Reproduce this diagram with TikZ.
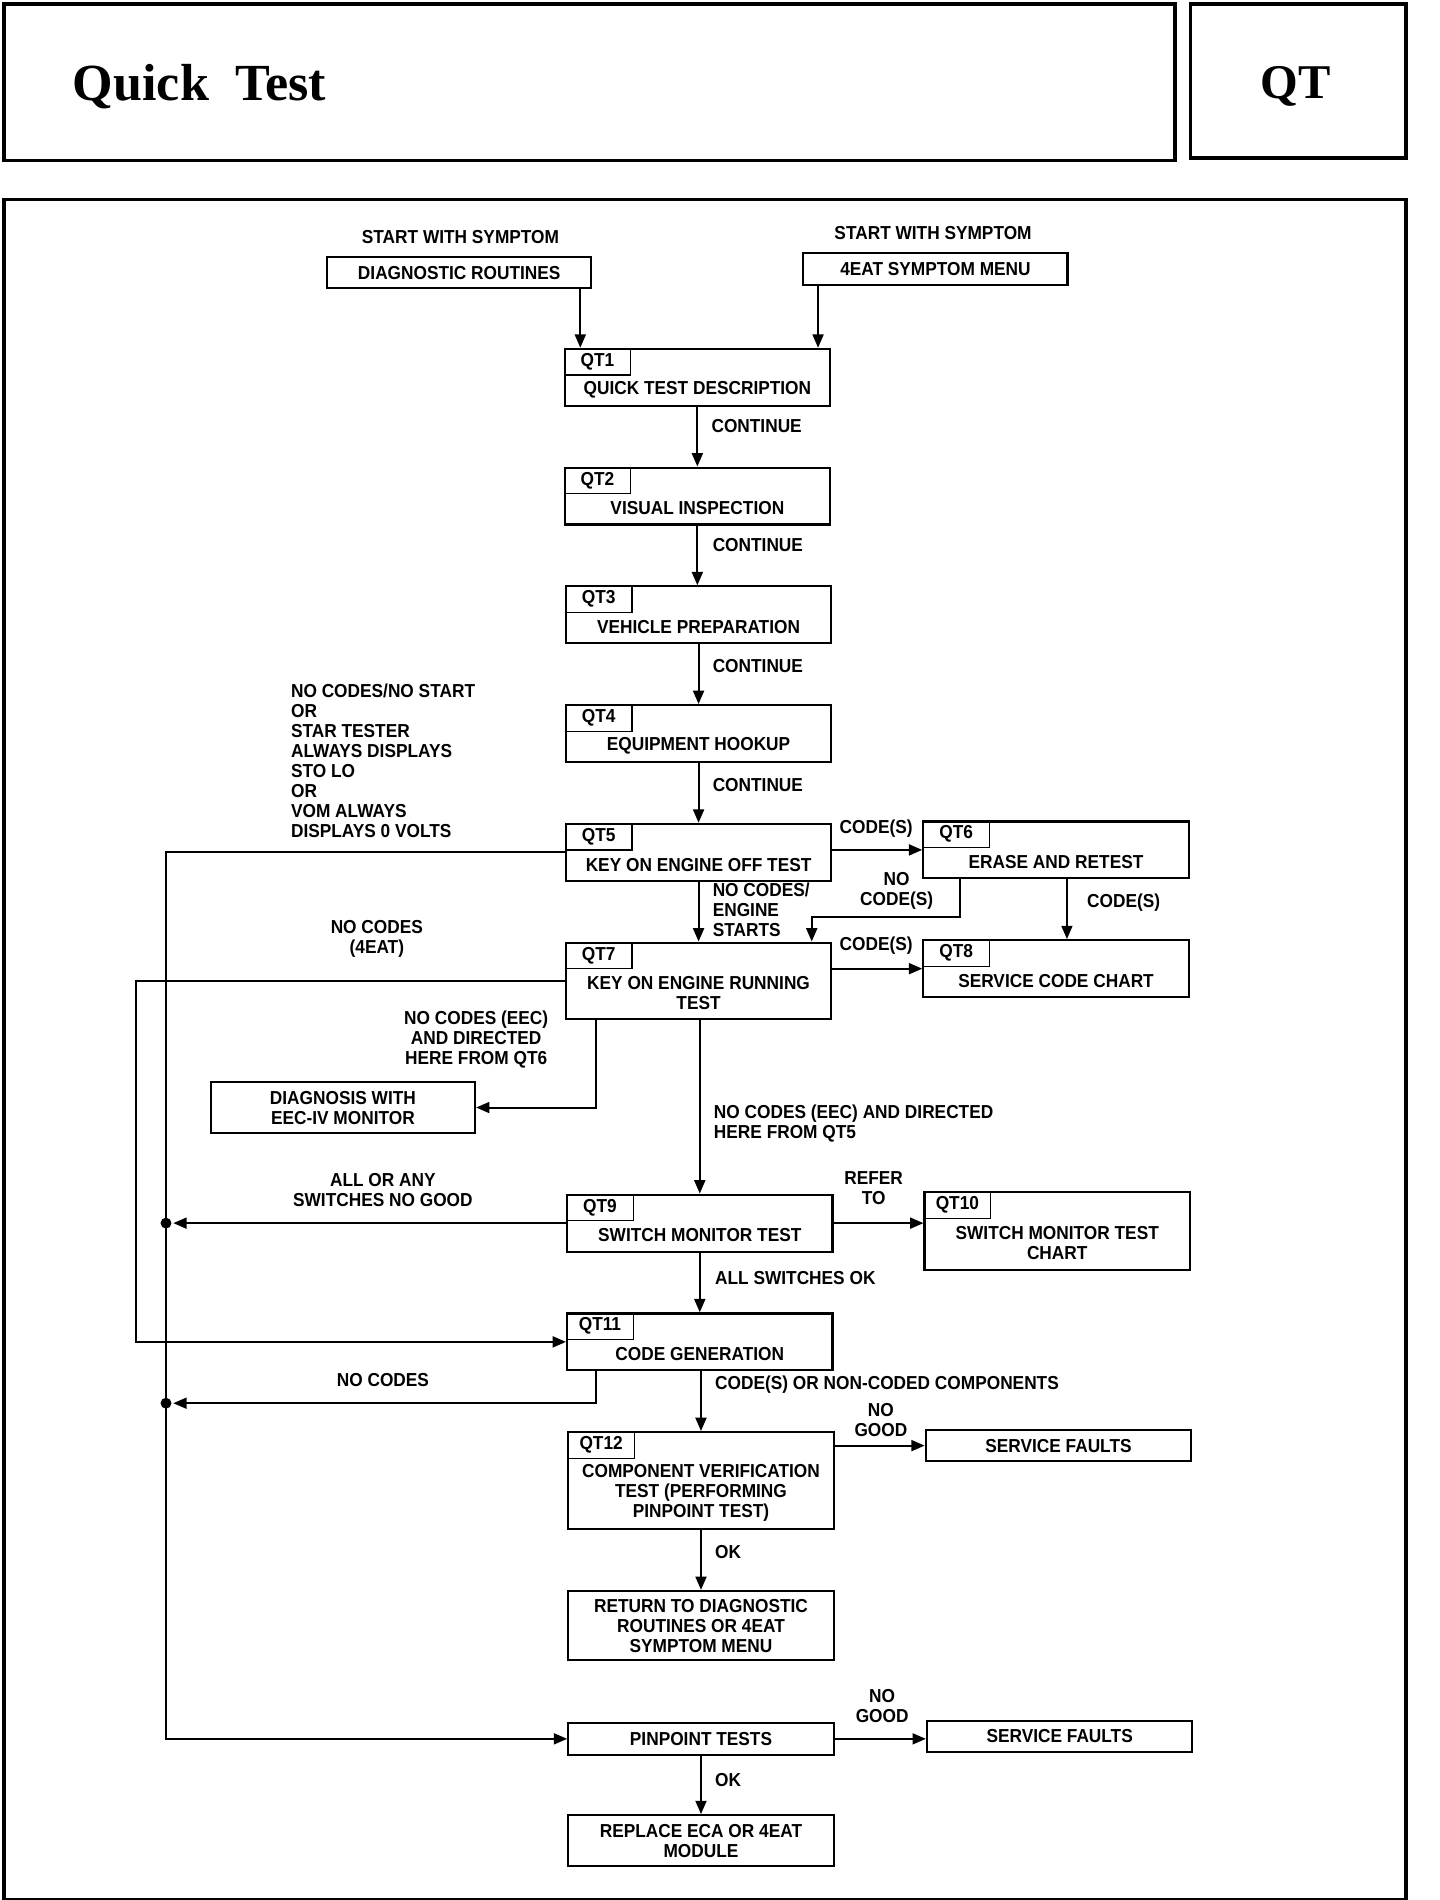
\documentclass[tikz,border=0pt]{standalone}
\usepackage{fontspec}
\setmainfont{Liberation Sans}[FakeStretch=0.92]
\newfontfamily\titlefont{Liberation Serif}
\usetikzlibrary{arrows.meta,calc}
\newcommand\lbl{\fontsize{15.5}{16.5}\selectfont\bfseries}
\newcommand\qtb[6]{%
 \node[box, minimum height=#4pt, anchor=north] (#1) at (#2,#3) {};
 \node[tagbox, anchor=north west] (#1tag) at (#1.north west) {#5};
 \node[lbl] (#1txt) at (#2,{#3+11+#4/2}) {#6};
}
\tikzset{
 box/.style={draw, line width=1.8pt, minimum width=219pt, inner sep=0pt},
 pbox/.style={draw, line width=1.8pt, minimum width=219pt, inner sep=0pt, font=\lbl, align=center},
 tagbox/.style={draw, line width=1pt, minimum width=55pt, minimum height=22pt, inner sep=0pt, font=\lbl},
 lbl/.style={inner sep=0pt, font=\lbl, align=center},
 lbll/.style={inner sep=0pt, font=\lbl, align=left, anchor=west},
 arr/.style={line width=1.7pt, -{Triangle[length=11pt,width=9pt]}},
 dot/.style={circle, fill, inner sep=0pt, minimum size=9pt},
}
\begin{document}
\begin{tikzpicture}[x=1pt,y=-1pt]
\useasboundingbox (0,0) rectangle (1188,1568);
% header
\node[draw, line width=3pt, minimum width=966pt, minimum height=129pt, anchor=north west] (hdr) at (2,2) {};
\node[draw, line width=3pt, minimum width=178pt, minimum height=127pt, anchor=north west] (hdrqt) at (981,2) {};
\node[anchor=base west, inner sep=0pt, font=\titlefont\fontsize{43}{46}\selectfont\bfseries] (title) at (60,83) {Quick\,\,\,Test};
\node[anchor=base, inner sep=0pt, font=\titlefont\fontsize{40}{44}\selectfont\bfseries] (qtt) at (1069,81) {QT};
% main frame
\node[draw, line width=3pt, minimum width=1157pt, minimum height=1403pt, anchor=north west] (frame) at (2,163) {};

% start boxes
\node[lbl] (st1) at (380,196) {START WITH SYMPTOM};
\node[pbox, minimum width=218pt, minimum height=26pt] (diag) at (379,225) {DIAGNOSTIC ROUTINES};
\node[lbl] (st2) at (770,192) {START WITH SYMPTOM};
\node[pbox, minimum width=218pt, minimum height=26pt] (menu) at (772,222) {4EAT SYMPTOM MENU};

% QT boxes
\qtb{qt1}{575.5}{287}{47}{QT1}{QUICK TEST DESCRIPTION}
\qtb{qt2}{575.5}{385}{47}{QT2}{VISUAL INSPECTION}
\qtb{qt3}{576.5}{483}{47}{QT3}{VEHICLE PREPARATION}
\qtb{qt4}{576.5}{581}{47}{QT4}{EQUIPMENT HOOKUP}
\qtb{qt5}{576.5}{679}{47}{QT5}{KEY ON ENGINE OFF TEST}
\qtb{qt6}{871.5}{677}{47}{QT6}{ERASE AND RETEST}
\qtb{qt7}{576.5}{777}{63}{QT7}{KEY ON ENGINE RUNNING\\TEST}
\qtb{qt8}{871.5}{775}{47}{QT8}{SERVICE CODE CHART}
\qtb{qt9}{577.5}{985}{47}{QT9}{SWITCH MONITOR TEST}
\qtb{qt10}{872.5}{983}{64}{QT10}{SWITCH MONITOR TEST\\CHART}
\qtb{qt11}{577.5}{1083}{47}{QT11}{CODE GENERATION}
\qtb{qt12}{578.5}{1181}{80}{QT12}{COMPONENT VERIFICATION\\TEST (PERFORMING\\PINPOINT TEST)}

% plain boxes
\node[pbox, minimum width=218pt, minimum height=42pt] (eec) at (283,914) {DIAGNOSIS WITH\\EEC-IV MONITOR};
\node[pbox, minimum height=26pt] (sf1) at (873.5,1193) {SERVICE FAULTS};
\node[pbox, minimum height=57pt] (ret) at (578.5,1341.5) {RETURN TO DIAGNOSTIC\\ROUTINES OR 4EAT\\SYMPTOM MENU};
\node[pbox, minimum height=26pt] (pin) at (578.5,1435) {PINPOINT TESTS};
\node[pbox, minimum height=26pt] (sf2) at (874.5,1433) {SERVICE FAULTS};
\node[pbox, minimum height=42pt] (rep) at (578.5,1519) {REPLACE ECA OR 4EAT\\MODULE};

% helper coordinates
\coordinate (d1) at ([xshift=-10pt]diag.south east);
\coordinate (e1) at ([xshift=13pt]menu.south west);
\coordinate (busA) at (137,704);
\coordinate (busB) at (112,807);
\coordinate (q6a) at ([xshift=31pt]qt6.south west);
\coordinate (q6b) at ([xshift=9pt]qt6.south);
\coordinate (q7a) at ([xshift=-17pt]qt7.north east);
\coordinate (q7b) at ([xshift=26pt]qt7.south west);
\coordinate (q11a) at ([xshift=25pt]qt11.south west);
\coordinate (j1) at (qt9.west -| busA);
\coordinate (j2) at (137,1158);

% connectors
\draw[arr] (d1) -- (d1 |- qt1.north);
\draw[arr] (e1) -- (e1 |- qt1.north);
\draw[arr] (qt1.south) -- (qt1.south |- qt2.north);
\draw[arr] (qt2.south) -- (qt2.south |- qt3.north);
\draw[arr] (qt3.south) -- (qt3.south |- qt4.north);
\draw[arr] (qt4.south) -- (qt4.south |- qt5.north);
\draw[arr] (qt6.west -| qt5.east) -- (qt6.west);
\draw[arr] (qt5.south) -- (qt5.south |- qt7.north);
\draw[arr] (q6a) -- ++(0,31) -| (q7a);
\draw[arr] (q6b) -- (q6b |- qt8.north);
\draw[arr] (qt8.west -| qt7.east) -- (qt8.west);
\draw[arr] (qt5.west) -- (qt5.west -| busA) |- (pin.west);
\draw[arr] (qt7.west) -- (qt7.west -| busB) |- (qt11.west);
\draw[arr] (q7b) |- (eec.east);
\draw[arr] (qt9.north |- qt7.south) -- (qt9.north);
\draw[arr] (qt9.west) -- ([xshift=6pt]j1);
\node[dot] (dot1) at (j1) {};
\draw[arr] (qt9.east) -- (qt9.east -| qt10.west);
\draw[arr] (qt9.south) -- (qt9.south |- qt11.north);
\draw[arr] (q11a) |- ([xshift=6pt]j2);
\node[dot] (dot2) at (j2) {};
\draw[arr] (qt11.south -| qt12.north) -- (qt12.north);
\draw[arr] (sf1.west -| qt12.east) -- (sf1.west);
\draw[arr] (qt12.south) -- (ret.north);
\draw[arr] (pin.east) -- (pin.east -| sf2.west);
\draw[arr] (pin.south) -- (rep.north);

% labels
\node[lbll] (c1) at (587,352) {CONTINUE};
\node[lbll] (c2) at (588,450) {CONTINUE};
\node[lbll] (c3) at (588,550) {CONTINUE};
\node[lbll] (c4) at (588,648) {CONTINUE};
\node[lbl] (cs1) at (723,684) {CODE(S)};
\node[lbll] (nces) at (588,750.5) {NO CODES/\\ENGINE\\STARTS};
\node[lbl] (ncs) at (740,735) {NO\\CODE(S)};
\node[lbll] (cs2) at (897,745) {CODE(S)};
\node[lbl] (cs3) at (723,780) {CODE(S)};
\node[lbll] (nostart) at (240,627.5) {NO CODES/NO START\\OR\\STAR TESTER\\ALWAYS DISPLAYS\\STO LO\\OR\\VOM ALWAYS\\DISPLAYS 0 VOLTS};
\node[lbl] (nc4) at (311,774.5) {NO CODES\\(4EAT)};
\node[lbl] (eec6) at (393,858) {NO CODES (EEC)\\AND DIRECTED\\HERE FROM QT6};
\node[lbll] (eec5) at (589,927.5) {NO CODES (EEC) AND DIRECTED\\HERE FROM QT5};
\node[lbl] (allany) at (316,982) {ALL OR ANY\\SWITCHES NO GOOD};
\node[lbl] (refer) at (721,980.5) {REFER\\TO};
\node[lbll] (allok) at (590,1055) {ALL SWITCHES OK};
\node[lbl] (nocodes) at (316,1139) {NO CODES};
\node[lbll] (codesnon) at (590,1143) {CODE(S) OR NON-CODED COMPONENTS};
\node[lbl] (ng1) at (727,1172) {NO\\GOOD};
\node[lbll] (ok1) at (590,1281) {OK};
\node[lbl] (ng2) at (728,1408) {NO\\GOOD};
\node[lbll] (ok2) at (590,1469) {OK};
\end{tikzpicture}
\end{document}
